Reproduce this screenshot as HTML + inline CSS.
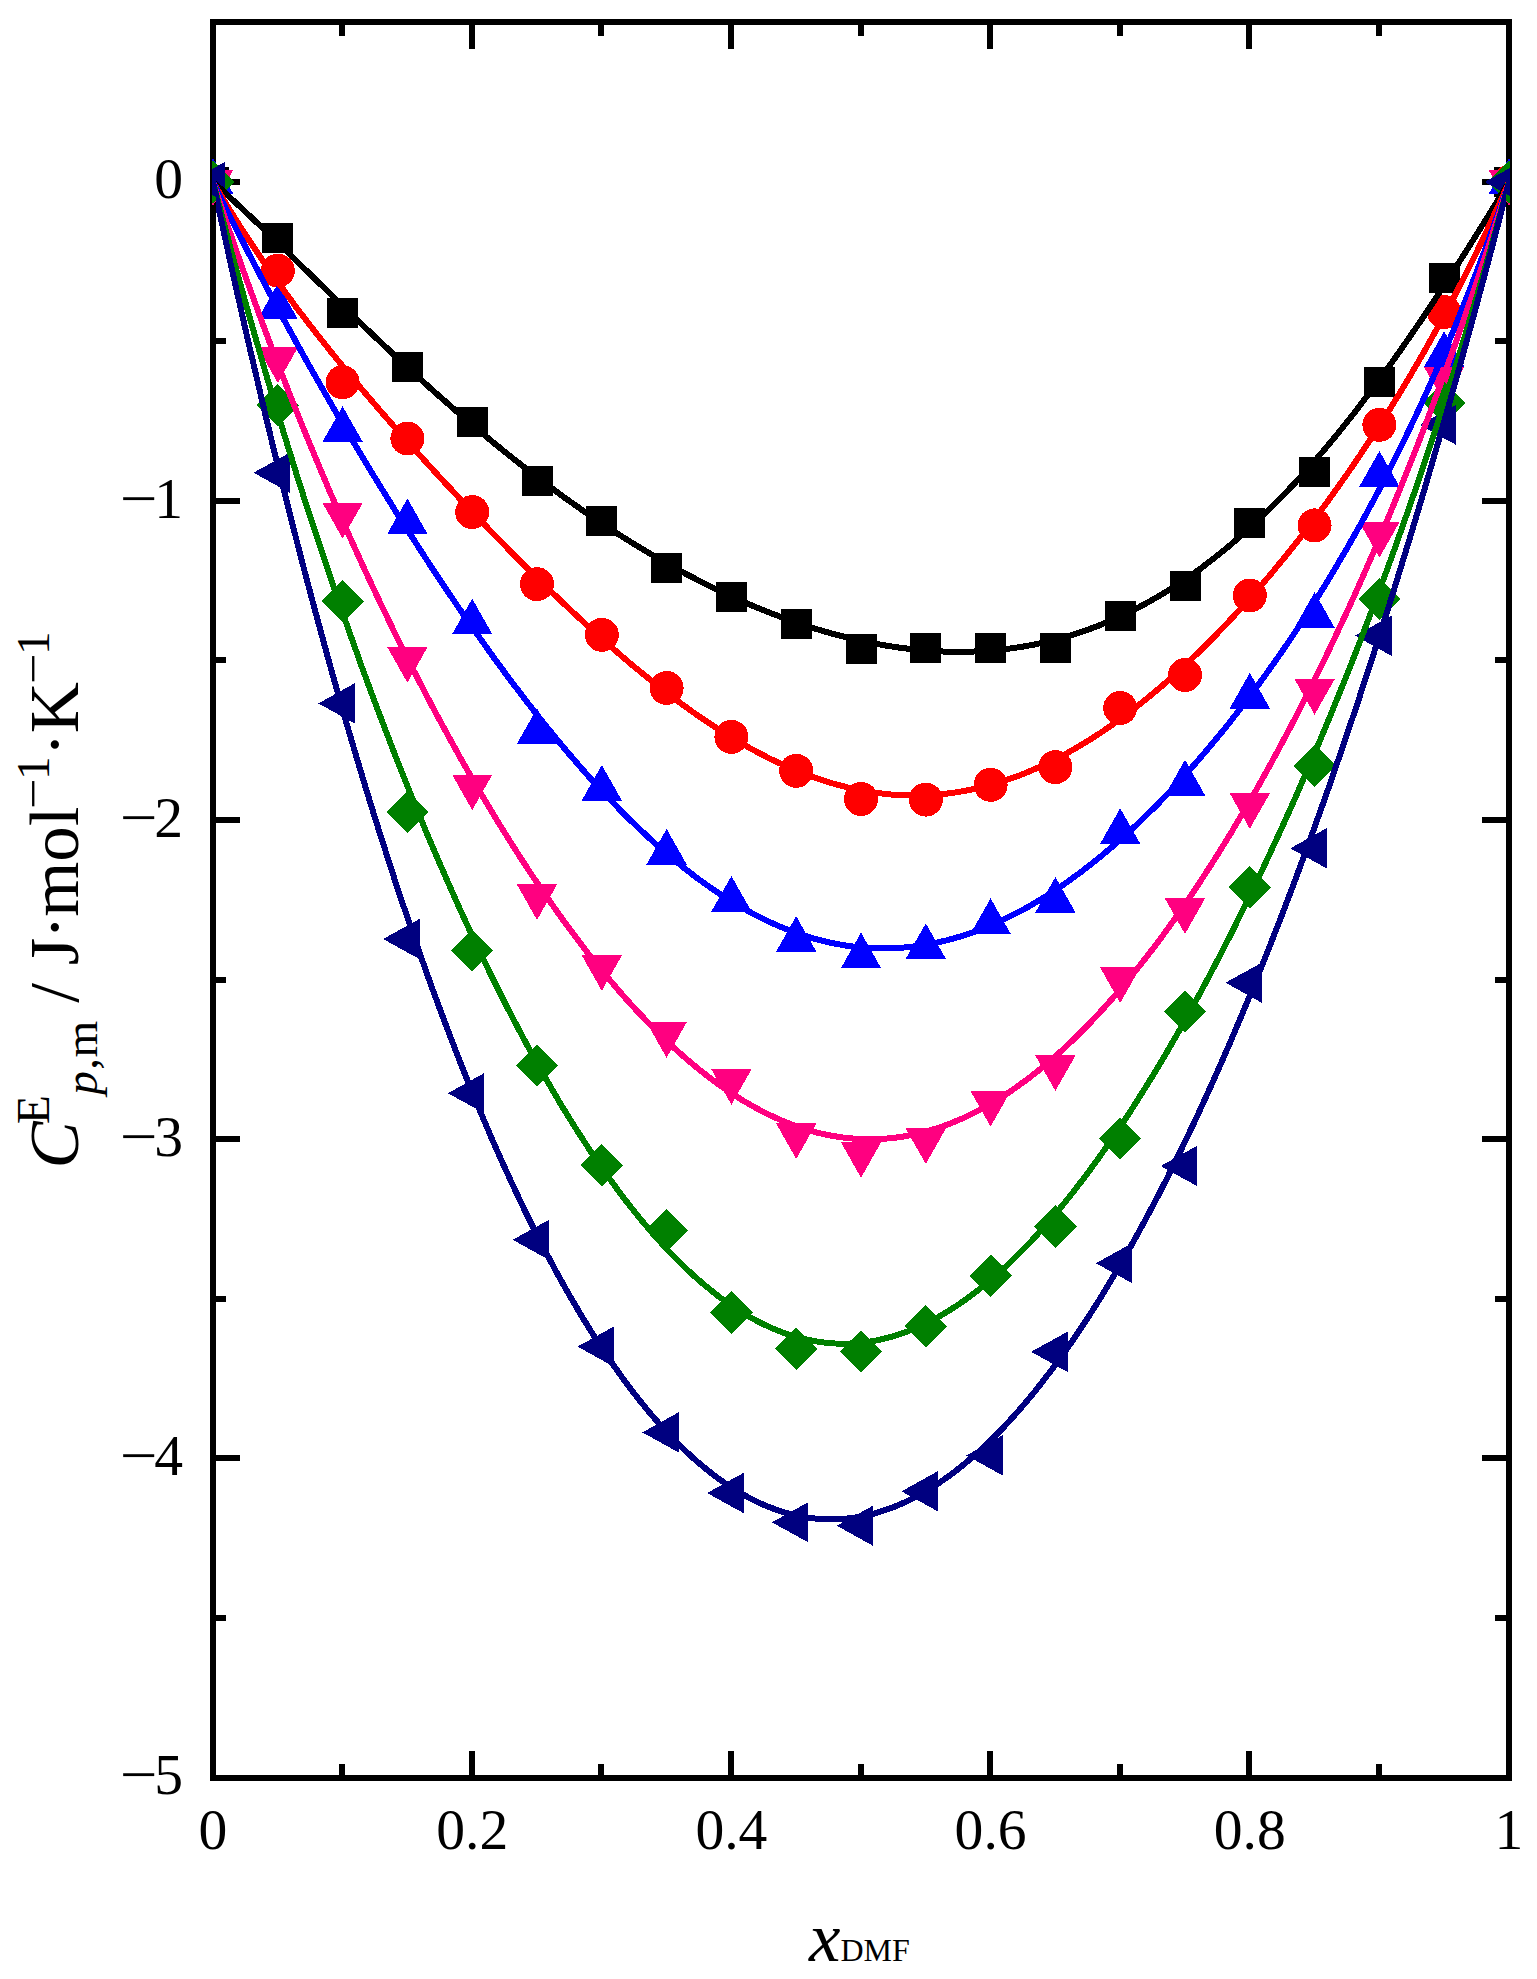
<!DOCTYPE html>
<html lang="en">
<head>
<meta charset="utf-8">
<title>Excess molar heat capacity vs x(DMF)</title>
<style>
html,body{margin:0;padding:0;background:#fff;}
body{width:1537px;height:1979px;overflow:hidden;}
svg{display:block;}
text{font-family:"Liberation Serif",serif;fill:#000;}
.tick{font-size:57.6px;}
.ttl{font-size:70.8px;}
.it{font-style:italic;}
</style>
</head>
<body>
<svg width="1537" height="1979" viewBox="0 0 1537 1979">
<rect width="1537" height="1979" fill="#fff"/>
<g shape-rendering="crispEdges" fill="#000">
<rect x="210" y="19" width="1302" height="6"/>
<rect x="210" y="1775" width="1302" height="6"/>
<rect x="210" y="19" width="6" height="1762"/>
<rect x="1506" y="19" width="6" height="1762"/>
<rect x="339" y="25" width="6" height="11"/>
<rect x="339" y="1764" width="6" height="11"/>
<rect x="469" y="25" width="6" height="24"/>
<rect x="469" y="1751" width="6" height="24"/>
<rect x="598" y="25" width="6" height="11"/>
<rect x="598" y="1764" width="6" height="11"/>
<rect x="728" y="25" width="6" height="24"/>
<rect x="728" y="1751" width="6" height="24"/>
<rect x="858" y="25" width="6" height="11"/>
<rect x="858" y="1764" width="6" height="11"/>
<rect x="987" y="25" width="6" height="24"/>
<rect x="987" y="1751" width="6" height="24"/>
<rect x="1117" y="25" width="6" height="11"/>
<rect x="1117" y="1764" width="6" height="11"/>
<rect x="1246" y="25" width="6" height="24"/>
<rect x="1246" y="1751" width="6" height="24"/>
<rect x="1376" y="25" width="6" height="11"/>
<rect x="1376" y="1764" width="6" height="11"/>
<rect x="216" y="179" width="24" height="6"/>
<rect x="1482" y="179" width="24" height="6"/>
<rect x="216" y="338" width="10" height="6"/>
<rect x="1495" y="338" width="11" height="6"/>
<rect x="216" y="498" width="24" height="6"/>
<rect x="1482" y="498" width="24" height="6"/>
<rect x="216" y="657" width="10" height="6"/>
<rect x="1495" y="657" width="11" height="6"/>
<rect x="216" y="817" width="24" height="6"/>
<rect x="1482" y="817" width="24" height="6"/>
<rect x="216" y="977" width="10" height="6"/>
<rect x="1495" y="977" width="11" height="6"/>
<rect x="216" y="1136" width="24" height="6"/>
<rect x="1482" y="1136" width="24" height="6"/>
<rect x="216" y="1296" width="10" height="6"/>
<rect x="1495" y="1296" width="11" height="6"/>
<rect x="216" y="1455" width="24" height="6"/>
<rect x="1482" y="1455" width="24" height="6"/>
<rect x="216" y="1615" width="10" height="6"/>
<rect x="1495" y="1615" width="11" height="6"/>
</g>
<g class="tick" text-anchor="end">
<text x="183" y="198.3">0</text>
<text x="183" y="517.5">1</text>
<text text-anchor="middle" transform="translate(138.7,517.5) scale(1.16,1)">−</text>
<text x="183" y="836.7">2</text>
<text text-anchor="middle" transform="translate(138.7,836.7) scale(1.16,1)">−</text>
<text x="183" y="1155.9">3</text>
<text text-anchor="middle" transform="translate(138.7,1155.9) scale(1.16,1)">−</text>
<text x="183" y="1475.1">4</text>
<text text-anchor="middle" transform="translate(138.7,1475.1) scale(1.16,1)">−</text>
<text x="183" y="1794.3">5</text>
<text text-anchor="middle" transform="translate(138.7,1794.3) scale(1.16,1)">−</text>
</g>
<g class="tick" text-anchor="middle">
<text x="213.0" y="1849.2">0</text>
<text x="472.2" y="1849.2">0.2</text>
<text x="731.4" y="1849.2">0.4</text>
<text x="990.6" y="1849.2">0.6</text>
<text x="1249.8" y="1849.2">0.8</text>
<text x="1509.0" y="1849.2">1</text>
</g>
<text class="ttl" x="809" y="1960.5"><tspan class="it">x</tspan><tspan font-size="32px">DMF</tspan></text>
<g class="ttl" transform="translate(78,1168.5) rotate(-90)">
<text x="0.00" y="0.0" class="it">C</text>
<text x="44.53" y="-29.5" font-size="47.2px">E</text>
<text x="73.86" y="19.0" font-size="47.2px" class="it">p</text>
<text x="98.66" y="19.0" font-size="47.2px">,</text>
<text x="111.05" y="19.0" font-size="47.2px">m</text>
<text x="165.86" y="0.0">/</text>
<text x="203.23" y="0.0">J</text>
<text x="229.48" y="0.0">·</text>
<text x="251.76" y="0.0">mol</text>
<text font-size="47.2px" text-anchor="middle" transform="translate(375.15,-29.5) scale(1.15,1)">−</text>
<text x="388.53" y="-29.5" font-size="47.2px">1</text>
<text x="412.33" y="0.0">·</text>
<text x="435.30" y="0.0">K</text>
<text font-size="47.2px" text-anchor="middle" transform="translate(500.1,-29.5) scale(1.15,1)">−</text>
<text x="513.46" y="-29.5" font-size="47.2px">1</text>
</g>
<clipPath id="plot"><rect x="212" y="21" width="1298" height="1758"/></clipPath>
<clipPath id="inner"><rect x="216" y="25" width="1290" height="1750"/></clipPath>
<g clip-path="url(#plot)" shape-rendering="crispEdges">
<g fill="#000000" stroke="none">
<rect x="197.5" y="167.0" width="31" height="30"/>
<rect x="262.3" y="223.1" width="31" height="30"/>
<rect x="327.1" y="298.0" width="31" height="30"/>
<rect x="391.9" y="352.3" width="31" height="30"/>
<rect x="456.7" y="406.9" width="31" height="30"/>
<rect x="521.5" y="466.0" width="31" height="30"/>
<rect x="586.3" y="506.3" width="31" height="30"/>
<rect x="651.1" y="552.9" width="31" height="30"/>
<rect x="715.9" y="582.4" width="31" height="30"/>
<rect x="780.7" y="608.9" width="31" height="30"/>
<rect x="845.5" y="633.9" width="31" height="30"/>
<rect x="910.3" y="632.9" width="31" height="30"/>
<rect x="975.1" y="633.1" width="31" height="30"/>
<rect x="1039.9" y="632.8" width="31" height="30"/>
<rect x="1104.7" y="601.1" width="31" height="30"/>
<rect x="1169.5" y="570.6" width="31" height="30"/>
<rect x="1234.3" y="508.2" width="31" height="30"/>
<rect x="1299.1" y="457.0" width="31" height="30"/>
<rect x="1363.9" y="367.4" width="31" height="30"/>
<rect x="1428.7" y="263.4" width="31" height="30"/>
<rect x="1493.5" y="167.0" width="31" height="30"/>
</g>
<g fill="#ff0000" stroke="none">
<circle cx="213.0" cy="182.0" r="17"/>
<circle cx="277.8" cy="270.6" r="17"/>
<circle cx="342.6" cy="382.3" r="17"/>
<circle cx="407.4" cy="438.5" r="17"/>
<circle cx="472.2" cy="512.1" r="17"/>
<circle cx="537.0" cy="584.2" r="17"/>
<circle cx="601.8" cy="634.8" r="17"/>
<circle cx="666.6" cy="688.0" r="17"/>
<circle cx="731.4" cy="736.9" r="17"/>
<circle cx="796.2" cy="770.8" r="17"/>
<circle cx="861.0" cy="798.9" r="17"/>
<circle cx="925.8" cy="799.6" r="17"/>
<circle cx="990.6" cy="784.8" r="17"/>
<circle cx="1055.4" cy="767.1" r="17"/>
<circle cx="1120.2" cy="708.0" r="17"/>
<circle cx="1185.0" cy="675.0" r="17"/>
<circle cx="1249.8" cy="595.5" r="17"/>
<circle cx="1314.6" cy="525.4" r="17"/>
<circle cx="1379.4" cy="424.8" r="17"/>
<circle cx="1444.2" cy="312.1" r="17"/>
<circle cx="1509.0" cy="182.0" r="17"/>
</g>
<g fill="#0000ff" stroke="none">
<polygon points="213.0,158.0 233.2,193.7 192.8,193.7"/>
<polygon points="277.8,283.7 298.0,319.4 257.6,319.4"/>
<polygon points="342.6,406.3 362.8,442.0 322.4,442.0"/>
<polygon points="407.4,498.4 427.6,534.1 387.2,534.1"/>
<polygon points="472.2,598.6 492.4,634.3 452.0,634.3"/>
<polygon points="537.0,708.3 557.2,744.0 516.8,744.0"/>
<polygon points="601.8,765.0 622.0,800.7 581.6,800.7"/>
<polygon points="666.6,828.9 686.8,864.6 646.4,864.6"/>
<polygon points="731.4,876.0 751.6,911.7 711.2,911.7"/>
<polygon points="796.2,916.1 816.4,951.8 776.0,951.8"/>
<polygon points="861.0,932.6 881.2,968.3 840.8,968.3"/>
<polygon points="925.8,923.3 946.0,959.0 905.6,959.0"/>
<polygon points="990.6,898.3 1010.8,934.0 970.4,934.0"/>
<polygon points="1055.4,877.0 1075.6,912.7 1035.2,912.7"/>
<polygon points="1120.2,808.3 1140.4,844.0 1100.0,844.0"/>
<polygon points="1185.0,759.8 1205.2,795.5 1164.8,795.5"/>
<polygon points="1249.8,672.8 1270.0,708.5 1229.6,708.5"/>
<polygon points="1314.6,592.2 1334.8,627.9 1294.4,627.9"/>
<polygon points="1379.4,451.0 1399.6,486.7 1359.2,486.7"/>
<polygon points="1444.2,331.2 1464.4,366.9 1424.0,366.9"/>
<polygon points="1509.0,158.0 1529.2,193.7 1488.8,193.7"/>
</g>
<g fill="#ff0080" stroke="none">
<polygon points="213.0,206.0 233.2,170.3 192.8,170.3"/>
<polygon points="277.8,383.0 298.0,347.3 257.6,347.3"/>
<polygon points="342.6,538.5 362.8,502.8 322.4,502.8"/>
<polygon points="407.4,682.7 427.6,647.0 387.2,647.0"/>
<polygon points="472.2,810.2 492.4,774.5 452.0,774.5"/>
<polygon points="537.0,920.0 557.2,884.3 516.8,884.3"/>
<polygon points="601.8,990.8 622.0,955.1 581.6,955.1"/>
<polygon points="666.6,1057.8 686.8,1022.1 646.4,1022.1"/>
<polygon points="731.4,1104.8 751.6,1069.1 711.2,1069.1"/>
<polygon points="796.2,1159.0 816.4,1123.3 776.0,1123.3"/>
<polygon points="861.0,1177.8 881.2,1142.1 840.8,1142.1"/>
<polygon points="925.8,1164.0 946.0,1128.3 905.6,1128.3"/>
<polygon points="990.6,1126.6 1010.8,1090.9 970.4,1090.9"/>
<polygon points="1055.4,1091.0 1075.6,1055.3 1035.2,1055.3"/>
<polygon points="1120.2,1003.0 1140.4,967.3 1100.0,967.3"/>
<polygon points="1185.0,934.0 1205.2,898.3 1164.8,898.3"/>
<polygon points="1249.8,828.8 1270.0,793.1 1229.6,793.1"/>
<polygon points="1314.6,714.7 1334.8,679.0 1294.4,679.0"/>
<polygon points="1379.4,557.7 1399.6,522.0 1359.2,522.0"/>
<polygon points="1444.2,402.6 1464.4,366.9 1424.0,366.9"/>
<polygon points="1509.0,206.0 1529.2,170.3 1488.8,170.3"/>
</g>
<g fill="#008000" stroke="none">
<polygon points="213.0,160.8 234.2,182.0 213.0,203.2 191.8,182.0"/>
<polygon points="277.8,384.1 299.0,405.3 277.8,426.5 256.6,405.3"/>
<polygon points="342.6,580.2 363.8,601.4 342.6,622.6 321.4,601.4"/>
<polygon points="407.4,791.0 428.6,812.2 407.4,833.4 386.2,812.2"/>
<polygon points="472.2,929.3 493.4,950.5 472.2,971.7 451.0,950.5"/>
<polygon points="537.0,1044.5 558.2,1065.7 537.0,1086.9 515.8,1065.7"/>
<polygon points="601.8,1144.1 623.0,1165.3 601.8,1186.5 580.6,1165.3"/>
<polygon points="666.6,1209.2 687.8,1230.4 666.6,1251.6 645.4,1230.4"/>
<polygon points="731.4,1291.3 752.6,1312.5 731.4,1333.7 710.2,1312.5"/>
<polygon points="796.2,1327.8 817.4,1349.0 796.2,1370.2 775.0,1349.0"/>
<polygon points="861.0,1330.6 882.2,1351.8 861.0,1373.0 839.8,1351.8"/>
<polygon points="925.8,1305.0 947.0,1326.2 925.8,1347.4 904.6,1326.2"/>
<polygon points="990.6,1254.5 1011.8,1275.7 990.6,1296.9 969.4,1275.7"/>
<polygon points="1055.4,1205.3 1076.6,1226.5 1055.4,1247.7 1034.2,1226.5"/>
<polygon points="1120.2,1117.3 1141.4,1138.5 1120.2,1159.7 1099.0,1138.5"/>
<polygon points="1185.0,990.3 1206.2,1011.5 1185.0,1032.7 1163.8,1011.5"/>
<polygon points="1249.8,866.2 1271.0,887.4 1249.8,908.6 1228.6,887.4"/>
<polygon points="1314.6,744.5 1335.8,765.7 1314.6,786.9 1293.4,765.7"/>
<polygon points="1379.4,578.0 1400.6,599.2 1379.4,620.4 1358.2,599.2"/>
<polygon points="1444.2,381.8 1465.4,403.0 1444.2,424.2 1423.0,403.0"/>
<polygon points="1509.0,160.8 1530.2,182.0 1509.0,203.2 1487.8,182.0"/>
</g>
<g fill="#000080" stroke="none">
<polygon points="188.7,182.0 225.2,161.8 225.2,202.2"/>
<polygon points="253.5,472.7 290.0,452.5 290.0,492.9"/>
<polygon points="318.3,703.4 354.8,683.2 354.8,723.6"/>
<polygon points="383.1,939.0 419.6,918.8 419.6,959.2"/>
<polygon points="447.9,1093.2 484.4,1073.0 484.4,1113.4"/>
<polygon points="512.7,1239.8 549.2,1219.6 549.2,1260.0"/>
<polygon points="577.5,1346.6 614.0,1326.4 614.0,1366.8"/>
<polygon points="642.3,1432.4 678.8,1412.2 678.8,1452.6"/>
<polygon points="707.1,1493.0 743.6,1472.8 743.6,1513.2"/>
<polygon points="771.9,1522.3 808.4,1502.1 808.4,1542.5"/>
<polygon points="836.7,1525.7 873.2,1505.5 873.2,1545.9"/>
<polygon points="901.5,1491.3 938.0,1471.1 938.0,1511.5"/>
<polygon points="966.3,1455.4 1002.8,1435.2 1002.8,1475.6"/>
<polygon points="1031.1,1351.8 1067.6,1331.6 1067.6,1372.0"/>
<polygon points="1095.9,1263.2 1132.4,1243.0 1132.4,1283.4"/>
<polygon points="1160.7,1166.0 1197.2,1145.8 1197.2,1186.2"/>
<polygon points="1225.5,982.7 1262.0,962.5 1262.0,1002.9"/>
<polygon points="1290.3,848.3 1326.8,828.1 1326.8,868.5"/>
<polygon points="1355.1,635.7 1391.6,615.5 1391.6,655.9"/>
<polygon points="1419.9,424.9 1456.4,404.7 1456.4,445.1"/>
<polygon points="1484.7,182.0 1521.2,161.8 1521.2,202.2"/>
</g>
<g fill="none" stroke-width="6" stroke-linejoin="round" clip-path="url(#inner)">
<polyline points="213.0,182.0 219.5,187.8 226.0,193.7 232.4,199.7 238.9,205.7 245.4,211.8 251.9,218.0 258.4,224.1 264.8,230.3 271.3,236.5 277.8,242.8 284.3,249.1 290.8,255.4 297.2,261.7 303.7,268.0 310.2,274.3 316.7,280.6 323.2,286.9 329.6,293.2 336.1,299.5 342.6,305.8 349.1,312.1 355.6,318.3 362.0,324.5 368.5,330.7 375.0,336.9 381.5,343.0 388.0,349.1 394.4,355.2 400.9,361.2 407.4,367.2 413.9,373.2 420.4,379.1 426.8,385.0 433.3,390.8 439.8,396.6 446.3,402.3 452.8,408.0 459.2,413.7 465.7,419.3 472.2,424.8 478.7,430.3 485.2,435.7 491.6,441.1 498.1,446.4 504.6,451.7 511.1,456.9 517.6,462.0 524.0,467.1 530.5,472.1 537.0,477.1 543.5,482.0 550.0,486.8 556.4,491.6 562.9,496.4 569.4,501.0 575.9,505.6 582.4,510.2 588.8,514.6 595.3,519.0 601.8,523.4 608.3,527.7 614.8,531.9 621.2,536.0 627.7,540.1 634.2,544.1 640.7,548.1 647.2,552.0 653.6,555.8 660.1,559.6 666.6,563.3 673.1,566.9 679.6,570.4 686.0,573.9 692.5,577.3 699.0,580.7 705.5,584.0 712.0,587.2 718.4,590.3 724.9,593.4 731.4,596.4 737.9,599.3 744.4,602.2 750.8,605.0 757.3,607.7 763.8,610.3 770.3,612.9 776.8,615.4 783.2,617.8 789.7,620.2 796.2,622.4 802.7,624.6 809.2,626.7 815.6,628.8 822.1,630.7 828.6,632.6 835.1,634.4 841.6,636.1 848.0,637.7 854.5,639.3 861.0,640.7 867.5,642.1 874.0,643.4 880.4,644.6 886.9,645.7 893.4,646.7 899.9,647.7 906.4,648.5 912.8,649.3 919.3,649.9 925.8,650.5 932.3,650.9 938.8,651.3 945.2,651.6 951.7,651.7 958.2,651.8 964.7,651.8 971.2,651.6 977.6,651.4 984.1,651.0 990.6,650.6 997.1,650.0 1003.6,649.3 1010.0,648.5 1016.5,647.6 1023.0,646.6 1029.5,645.4 1036.0,644.2 1042.4,642.8 1048.9,641.3 1055.4,639.7 1061.9,637.9 1068.4,636.1 1074.8,634.1 1081.3,631.9 1087.8,629.7 1094.3,627.3 1100.8,624.8 1107.2,622.1 1113.7,619.4 1120.2,616.4 1126.7,613.4 1133.2,610.2 1139.6,606.8 1146.1,603.4 1152.6,599.7 1159.1,596.0 1165.6,592.1 1172.0,588.0 1178.5,583.8 1185.0,579.5 1191.5,575.0 1198.0,570.4 1204.4,565.6 1210.9,560.6 1217.4,555.5 1223.9,550.3 1230.4,544.9 1236.8,539.4 1243.3,533.7 1249.8,527.8 1256.3,521.8 1262.8,515.7 1269.2,509.4 1275.7,502.9 1282.2,496.3 1288.7,489.6 1295.2,482.7 1301.6,475.6 1308.1,468.4 1314.6,461.0 1321.1,453.5 1327.6,445.9 1334.0,438.1 1340.5,430.2 1347.0,422.1 1353.5,413.9 1360.0,405.5 1366.4,397.0 1372.9,388.4 1379.4,379.6 1385.9,370.7 1392.4,361.7 1398.8,352.6 1405.3,343.3 1411.8,333.9 1418.3,324.4 1424.8,314.8 1431.2,305.1 1437.7,295.3 1444.2,285.4 1450.7,275.4 1457.2,265.3 1463.6,255.1 1470.1,244.9 1476.6,234.5 1483.1,224.1 1489.6,213.7 1496.0,203.2 1502.5,192.6 1509.0,182.0" stroke="#000000"/>
<polyline points="213.0,182.0 219.5,193.0 226.0,203.7 232.4,214.2 238.9,224.5 245.4,234.6 251.9,244.4 258.4,254.1 264.8,263.5 271.3,272.8 277.8,282.0 284.3,290.9 290.8,299.8 297.2,308.5 303.7,317.0 310.2,325.5 316.7,333.8 323.2,342.0 329.6,350.1 336.1,358.1 342.6,366.1 349.1,373.9 355.6,381.7 362.0,389.4 368.5,397.0 375.0,404.6 381.5,412.1 388.0,419.5 394.4,426.9 400.9,434.2 407.4,441.5 413.9,448.7 420.4,455.9 426.8,463.0 433.3,470.1 439.8,477.2 446.3,484.2 452.8,491.1 459.2,498.0 465.7,504.9 472.2,511.7 478.7,518.5 485.2,525.3 491.6,532.0 498.1,538.7 504.6,545.3 511.1,551.9 517.6,558.4 524.0,564.9 530.5,571.3 537.0,577.7 543.5,584.1 550.0,590.4 556.4,596.6 562.9,602.8 569.4,608.9 575.9,615.0 582.4,621.0 588.8,627.0 595.3,632.8 601.8,638.7 608.3,644.4 614.8,650.1 621.2,655.7 627.7,661.2 634.2,666.7 640.7,672.0 647.2,677.3 653.6,682.5 660.1,687.6 666.6,692.6 673.1,697.6 679.6,702.4 686.0,707.1 692.5,711.8 699.0,716.3 705.5,720.7 712.0,725.1 718.4,729.3 724.9,733.4 731.4,737.4 737.9,741.2 744.4,745.0 750.8,748.6 757.3,752.1 763.8,755.5 770.3,758.8 776.8,761.9 783.2,764.9 789.7,767.8 796.2,770.5 802.7,773.1 809.2,775.6 815.6,777.9 822.1,780.1 828.6,782.2 835.1,784.1 841.6,785.8 848.0,787.5 854.5,788.9 861.0,790.3 867.5,791.4 874.0,792.5 880.4,793.3 886.9,794.1 893.4,794.7 899.9,795.1 906.4,795.3 912.8,795.5 919.3,795.4 925.8,795.2 932.3,794.9 938.8,794.4 945.2,793.8 951.7,793.0 958.2,792.0 964.7,790.9 971.2,789.6 977.6,788.2 984.1,786.6 990.6,784.9 997.1,783.0 1003.6,781.0 1010.0,778.8 1016.5,776.5 1023.0,774.0 1029.5,771.3 1036.0,768.5 1042.4,765.6 1048.9,762.5 1055.4,759.3 1061.9,755.9 1068.4,752.4 1074.8,748.7 1081.3,744.9 1087.8,741.0 1094.3,736.9 1100.8,732.6 1107.2,728.3 1113.7,723.8 1120.2,719.1 1126.7,714.3 1133.2,709.4 1139.6,704.3 1146.1,699.1 1152.6,693.8 1159.1,688.4 1165.6,682.8 1172.0,677.1 1178.5,671.2 1185.0,665.2 1191.5,659.1 1198.0,652.9 1204.4,646.5 1210.9,640.0 1217.4,633.4 1223.9,626.7 1230.4,619.8 1236.8,612.8 1243.3,605.7 1249.8,598.5 1256.3,591.1 1262.8,583.6 1269.2,576.0 1275.7,568.2 1282.2,560.3 1288.7,552.3 1295.2,544.2 1301.6,535.9 1308.1,527.5 1314.6,519.0 1321.1,510.3 1327.6,501.5 1334.0,492.5 1340.5,483.4 1347.0,474.2 1353.5,464.8 1360.0,455.2 1366.4,445.5 1372.9,435.7 1379.4,425.7 1385.9,415.5 1392.4,405.1 1398.8,394.6 1405.3,383.8 1411.8,372.9 1418.3,361.8 1424.8,350.5 1431.2,339.0 1437.7,327.3 1444.2,315.4 1450.7,303.2 1457.2,290.8 1463.6,278.1 1470.1,265.2 1476.6,252.1 1483.1,238.6 1489.6,224.9 1496.0,210.9 1502.5,196.6 1509.0,182.0" stroke="#ff0000"/>
<polyline points="213.0,182.0 219.5,195.3 226.0,208.4 232.4,221.3 238.9,234.1 245.4,246.8 251.9,259.4 258.4,271.8 264.8,284.1 271.3,296.3 277.8,308.4 284.3,320.4 290.8,332.3 297.2,344.0 303.7,355.7 310.2,367.3 316.7,378.7 323.2,390.1 329.6,401.4 336.1,412.6 342.6,423.7 349.1,434.7 355.6,445.6 362.0,456.4 368.5,467.2 375.0,477.8 381.5,488.4 388.0,498.9 394.4,509.3 400.9,519.6 407.4,529.9 413.9,540.0 420.4,550.0 426.8,560.0 433.3,569.9 439.8,579.7 446.3,589.4 452.8,599.0 459.2,608.5 465.7,617.9 472.2,627.2 478.7,636.4 485.2,645.5 491.6,654.5 498.1,663.5 504.6,672.3 511.1,681.0 517.6,689.6 524.0,698.1 530.5,706.4 537.0,714.7 543.5,722.9 550.0,730.9 556.4,738.8 562.9,746.6 569.4,754.3 575.9,761.8 582.4,769.3 588.8,776.6 595.3,783.7 601.8,790.8 608.3,797.7 614.8,804.4 621.2,811.1 627.7,817.6 634.2,823.9 640.7,830.1 647.2,836.2 653.6,842.1 660.1,847.9 666.6,853.5 673.1,859.0 679.6,864.3 686.0,869.5 692.5,874.5 699.0,879.4 705.5,884.1 712.0,888.7 718.4,893.0 724.9,897.3 731.4,901.3 737.9,905.2 744.4,909.0 750.8,912.5 757.3,915.9 763.8,919.2 770.3,922.3 776.8,925.2 783.2,927.9 789.7,930.5 796.2,932.9 802.7,935.1 809.2,937.1 815.6,939.0 822.1,940.7 828.6,942.3 835.1,943.6 841.6,944.8 848.0,945.9 854.5,946.7 861.0,947.4 867.5,947.9 874.0,948.2 880.4,948.4 886.9,948.4 893.4,948.2 899.9,947.9 906.4,947.3 912.8,946.6 919.3,945.8 925.8,944.8 932.3,943.6 938.8,942.2 945.2,940.7 951.7,939.0 958.2,937.1 964.7,935.1 971.2,932.9 977.6,930.6 984.1,928.1 990.6,925.4 997.1,922.6 1003.6,919.6 1010.0,916.4 1016.5,913.1 1023.0,909.7 1029.5,906.1 1036.0,902.3 1042.4,898.4 1048.9,894.3 1055.4,890.1 1061.9,885.7 1068.4,881.2 1074.8,876.5 1081.3,871.7 1087.8,866.7 1094.3,861.6 1100.8,856.4 1107.2,851.0 1113.7,845.4 1120.2,839.8 1126.7,833.9 1133.2,828.0 1139.6,821.8 1146.1,815.6 1152.6,809.2 1159.1,802.7 1165.6,796.0 1172.0,789.2 1178.5,782.2 1185.0,775.1 1191.5,767.9 1198.0,760.5 1204.4,753.0 1210.9,745.3 1217.4,737.5 1223.9,729.6 1230.4,721.5 1236.8,713.2 1243.3,704.8 1249.8,696.3 1256.3,687.6 1262.8,678.7 1269.2,669.7 1275.7,660.5 1282.2,651.2 1288.7,641.7 1295.2,632.0 1301.6,622.2 1308.1,612.2 1314.6,602.0 1321.1,591.6 1327.6,581.0 1334.0,570.3 1340.5,559.3 1347.0,548.2 1353.5,536.8 1360.0,525.3 1366.4,513.5 1372.9,501.5 1379.4,489.2 1385.9,476.7 1392.4,464.0 1398.8,451.0 1405.3,437.8 1411.8,424.2 1418.3,410.4 1424.8,396.4 1431.2,382.0 1437.7,367.3 1444.2,352.3 1450.7,336.9 1457.2,321.3 1463.6,305.2 1470.1,288.8 1476.6,272.0 1483.1,254.9 1489.6,237.3 1496.0,219.3 1502.5,200.9 1509.0,182.0" stroke="#0000ff"/>
<polyline points="213.0,182.0 219.5,201.5 226.0,220.6 232.4,239.5 238.9,258.1 245.4,276.3 251.9,294.3 258.4,312.1 264.8,329.5 271.3,346.7 277.8,363.7 284.3,380.4 290.8,396.9 297.2,413.1 303.7,429.1 310.2,444.9 316.7,460.5 323.2,475.9 329.6,491.1 336.1,506.0 342.6,520.8 349.1,535.4 355.6,549.7 362.0,563.9 368.5,577.9 375.0,591.7 381.5,605.4 388.0,618.8 394.4,632.1 400.9,645.3 407.4,658.2 413.9,671.0 420.4,683.6 426.8,696.0 433.3,708.3 439.8,720.4 446.3,732.3 452.8,744.1 459.2,755.8 465.7,767.2 472.2,778.5 478.7,789.6 485.2,800.6 491.6,811.4 498.1,822.1 504.6,832.6 511.1,842.9 517.6,853.1 524.0,863.1 530.5,873.0 537.0,882.6 543.5,892.2 550.0,901.5 556.4,910.7 562.9,919.7 569.4,928.6 575.9,937.3 582.4,945.8 588.8,954.2 595.3,962.4 601.8,970.4 608.3,978.2 614.8,985.9 621.2,993.4 627.7,1000.7 634.2,1007.9 640.7,1014.8 647.2,1021.6 653.6,1028.2 660.1,1034.7 666.6,1040.9 673.1,1047.0 679.6,1052.9 686.0,1058.6 692.5,1064.1 699.0,1069.4 705.5,1074.5 712.0,1079.5 718.4,1084.3 724.9,1088.8 731.4,1093.2 737.9,1097.4 744.4,1101.4 750.8,1105.1 757.3,1108.7 763.8,1112.1 770.3,1115.3 776.8,1118.3 783.2,1121.1 789.7,1123.8 796.2,1126.2 802.7,1128.4 809.2,1130.4 815.6,1132.2 822.1,1133.8 828.6,1135.2 835.1,1136.3 841.6,1137.3 848.0,1138.1 854.5,1138.7 861.0,1139.1 867.5,1139.3 874.0,1139.2 880.4,1139.0 886.9,1138.5 893.4,1137.9 899.9,1137.1 906.4,1136.0 912.8,1134.7 919.3,1133.3 925.8,1131.6 932.3,1129.7 938.8,1127.7 945.2,1125.4 951.7,1122.9 958.2,1120.2 964.7,1117.4 971.2,1114.3 977.6,1111.0 984.1,1107.5 990.6,1103.8 997.1,1099.9 1003.6,1095.9 1010.0,1091.6 1016.5,1087.1 1023.0,1082.4 1029.5,1077.6 1036.0,1072.5 1042.4,1067.3 1048.9,1061.8 1055.4,1056.2 1061.9,1050.4 1068.4,1044.3 1074.8,1038.1 1081.3,1031.7 1087.8,1025.1 1094.3,1018.4 1100.8,1011.4 1107.2,1004.3 1113.7,996.9 1120.2,989.4 1126.7,981.7 1133.2,973.8 1139.6,965.8 1146.1,957.5 1152.6,949.1 1159.1,940.5 1165.6,931.7 1172.0,922.7 1178.5,913.5 1185.0,904.2 1191.5,894.7 1198.0,885.0 1204.4,875.1 1210.9,865.1 1217.4,854.9 1223.9,844.4 1230.4,833.9 1236.8,823.1 1243.3,812.1 1249.8,801.0 1256.3,789.7 1262.8,778.2 1269.2,766.5 1275.7,754.7 1282.2,742.6 1288.7,730.4 1295.2,718.0 1301.6,705.4 1308.1,692.6 1314.6,679.6 1321.1,666.4 1327.6,653.0 1334.0,639.4 1340.5,625.6 1347.0,611.7 1353.5,597.4 1360.0,583.0 1366.4,568.4 1372.9,553.6 1379.4,538.5 1385.9,523.2 1392.4,507.7 1398.8,491.9 1405.3,475.9 1411.8,459.6 1418.3,443.1 1424.8,426.4 1431.2,409.3 1437.7,392.1 1444.2,374.5 1450.7,356.6 1457.2,338.5 1463.6,320.1 1470.1,301.3 1476.6,282.3 1483.1,262.9 1489.6,243.2 1496.0,223.1 1502.5,202.8 1509.0,182.0" stroke="#ff0080"/>
<polyline points="213.0,182.0 219.5,206.8 226.0,231.2 232.4,255.3 238.9,278.9 245.4,302.2 251.9,325.1 258.4,347.7 264.8,370.0 271.3,391.9 277.8,413.4 284.3,434.7 290.8,455.6 297.2,476.3 303.7,496.6 310.2,516.7 316.7,536.5 323.2,556.0 329.6,575.2 336.1,594.2 342.6,612.8 349.1,631.3 355.6,649.4 362.0,667.4 368.5,685.0 375.0,702.5 381.5,719.6 388.0,736.6 394.4,753.3 400.9,769.7 407.4,786.0 413.9,802.0 420.4,817.7 426.8,833.3 433.3,848.6 439.8,863.6 446.3,878.5 452.8,893.1 459.2,907.5 465.7,921.7 472.2,935.7 478.7,949.4 485.2,962.9 491.6,976.2 498.1,989.3 504.6,1002.2 511.1,1014.8 517.6,1027.2 524.0,1039.3 530.5,1051.3 537.0,1063.0 543.5,1074.5 550.0,1085.8 556.4,1096.8 562.9,1107.7 569.4,1118.2 575.9,1128.6 582.4,1138.7 588.8,1148.6 595.3,1158.3 601.8,1167.7 608.3,1176.9 614.8,1185.8 621.2,1194.6 627.7,1203.0 634.2,1211.3 640.7,1219.3 647.2,1227.0 653.6,1234.6 660.1,1241.8 666.6,1248.9 673.1,1255.6 679.6,1262.2 686.0,1268.5 692.5,1274.5 699.0,1280.3 705.5,1285.8 712.0,1291.1 718.4,1296.2 724.9,1301.0 731.4,1305.5 737.9,1309.8 744.4,1313.8 750.8,1317.6 757.3,1321.1 763.8,1324.4 770.3,1327.4 776.8,1330.2 783.2,1332.7 789.7,1334.9 796.2,1336.9 802.7,1338.6 809.2,1340.1 815.6,1341.3 822.1,1342.3 828.6,1343.0 835.1,1343.5 841.6,1343.7 848.0,1343.6 854.5,1343.3 861.0,1342.8 867.5,1342.0 874.0,1340.9 880.4,1339.6 886.9,1338.0 893.4,1336.2 899.9,1334.2 906.4,1331.9 912.8,1329.3 919.3,1326.5 925.8,1323.5 932.3,1320.2 938.8,1316.7 945.2,1312.9 951.7,1308.9 958.2,1304.7 964.7,1300.2 971.2,1295.5 977.6,1290.6 984.1,1285.4 990.6,1280.0 997.1,1274.4 1003.6,1268.6 1010.0,1262.5 1016.5,1256.2 1023.0,1249.7 1029.5,1243.0 1036.0,1236.0 1042.4,1228.9 1048.9,1221.5 1055.4,1213.9 1061.9,1206.1 1068.4,1198.1 1074.8,1189.9 1081.3,1181.5 1087.8,1172.9 1094.3,1164.0 1100.8,1155.0 1107.2,1145.8 1113.7,1136.4 1120.2,1126.8 1126.7,1117.0 1133.2,1107.0 1139.6,1096.8 1146.1,1086.5 1152.6,1075.9 1159.1,1065.2 1165.6,1054.3 1172.0,1043.2 1178.5,1031.9 1185.0,1020.4 1191.5,1008.8 1198.0,997.0 1204.4,985.0 1210.9,972.8 1217.4,960.4 1223.9,947.9 1230.4,935.1 1236.8,922.2 1243.3,909.2 1249.8,895.9 1256.3,882.5 1262.8,868.8 1269.2,855.0 1275.7,841.0 1282.2,826.9 1288.7,812.5 1295.2,798.0 1301.6,783.2 1308.1,768.3 1314.6,753.2 1321.1,737.8 1327.6,722.3 1334.0,706.6 1340.5,690.6 1347.0,674.5 1353.5,658.1 1360.0,641.5 1366.4,624.7 1372.9,607.6 1379.4,590.3 1385.9,572.8 1392.4,555.0 1398.8,536.9 1405.3,518.6 1411.8,500.0 1418.3,481.1 1424.8,462.0 1431.2,442.5 1437.7,422.8 1444.2,402.7 1450.7,382.3 1457.2,361.5 1463.6,340.4 1470.1,319.0 1476.6,297.2 1483.1,275.0 1489.6,252.3 1496.0,229.3 1502.5,205.9 1509.0,182.0" stroke="#008000"/>
<polyline points="213.0,182.0 219.5,212.3 226.0,242.1 232.4,271.5 238.9,300.5 245.4,329.1 251.9,357.2 258.4,384.9 264.8,412.3 271.3,439.2 277.8,465.7 284.3,491.8 290.8,517.5 297.2,542.8 303.7,567.8 310.2,592.4 316.7,616.6 323.2,640.4 329.6,663.8 336.1,686.9 342.6,709.6 349.1,732.0 355.6,754.0 362.0,775.6 368.5,796.9 375.0,817.9 381.5,838.5 388.0,858.8 394.4,878.7 400.9,898.3 407.4,917.5 413.9,936.4 420.4,955.0 426.8,973.3 433.3,991.2 439.8,1008.8 446.3,1026.1 452.8,1043.0 459.2,1059.7 465.7,1076.0 472.2,1092.0 478.7,1107.7 485.2,1123.1 491.6,1138.1 498.1,1152.9 504.6,1167.3 511.1,1181.5 517.6,1195.3 524.0,1208.8 530.5,1222.1 537.0,1235.0 543.5,1247.6 550.0,1260.0 556.4,1272.0 562.9,1283.7 569.4,1295.2 575.9,1306.3 582.4,1317.2 588.8,1327.7 595.3,1338.0 601.8,1347.9 608.3,1357.6 614.8,1367.0 621.2,1376.1 627.7,1384.9 634.2,1393.5 640.7,1401.7 647.2,1409.7 653.6,1417.3 660.1,1424.7 666.6,1431.8 673.1,1438.6 679.6,1445.2 686.0,1451.4 692.5,1457.4 699.0,1463.1 705.5,1468.5 712.0,1473.7 718.4,1478.5 724.9,1483.1 731.4,1487.4 737.9,1491.5 744.4,1495.2 750.8,1498.7 757.3,1501.9 763.8,1504.9 770.3,1507.5 776.8,1509.9 783.2,1512.0 789.7,1513.9 796.2,1515.5 802.7,1516.8 809.2,1517.8 815.6,1518.6 822.1,1519.1 828.6,1519.3 835.1,1519.3 841.6,1519.0 848.0,1518.4 854.5,1517.6 861.0,1516.5 867.5,1515.2 874.0,1513.6 880.4,1511.7 886.9,1509.5 893.4,1507.2 899.9,1504.5 906.4,1501.6 912.8,1498.4 919.3,1495.0 925.8,1491.3 932.3,1487.3 938.8,1483.1 945.2,1478.7 951.7,1474.0 958.2,1469.0 964.7,1463.8 971.2,1458.3 977.6,1452.6 984.1,1446.7 990.6,1440.4 997.1,1434.0 1003.6,1427.3 1010.0,1420.3 1016.5,1413.1 1023.0,1405.6 1029.5,1397.9 1036.0,1390.0 1042.4,1381.8 1048.9,1373.4 1055.4,1364.7 1061.9,1355.8 1068.4,1346.7 1074.8,1337.3 1081.3,1327.7 1087.8,1317.8 1094.3,1307.7 1100.8,1297.4 1107.2,1286.8 1113.7,1276.0 1120.2,1264.9 1126.7,1253.6 1133.2,1242.1 1139.6,1230.4 1146.1,1218.4 1152.6,1206.2 1159.1,1193.8 1165.6,1181.1 1172.0,1168.2 1178.5,1155.1 1185.0,1141.7 1191.5,1128.1 1198.0,1114.3 1204.4,1100.3 1210.9,1086.0 1217.4,1071.5 1223.9,1056.8 1230.4,1041.9 1236.8,1026.7 1243.3,1011.3 1249.8,995.7 1256.3,979.8 1262.8,963.7 1269.2,947.5 1275.7,930.9 1282.2,914.2 1288.7,897.2 1295.2,880.0 1301.6,862.6 1308.1,845.0 1314.6,827.1 1321.1,809.0 1327.6,790.7 1334.0,772.1 1340.5,753.3 1347.0,734.3 1353.5,715.1 1360.0,695.6 1366.4,675.9 1372.9,656.0 1379.4,635.9 1385.9,615.5 1392.4,594.9 1398.8,574.0 1405.3,552.9 1411.8,531.6 1418.3,510.0 1424.8,488.2 1431.2,466.2 1437.7,443.9 1444.2,421.3 1450.7,398.5 1457.2,375.5 1463.6,352.2 1470.1,328.7 1476.6,304.9 1483.1,280.8 1489.6,256.5 1496.0,232.0 1502.5,207.1 1509.0,182.0" stroke="#000080"/>
</g>
</g>
</svg>
</body>
</html>
